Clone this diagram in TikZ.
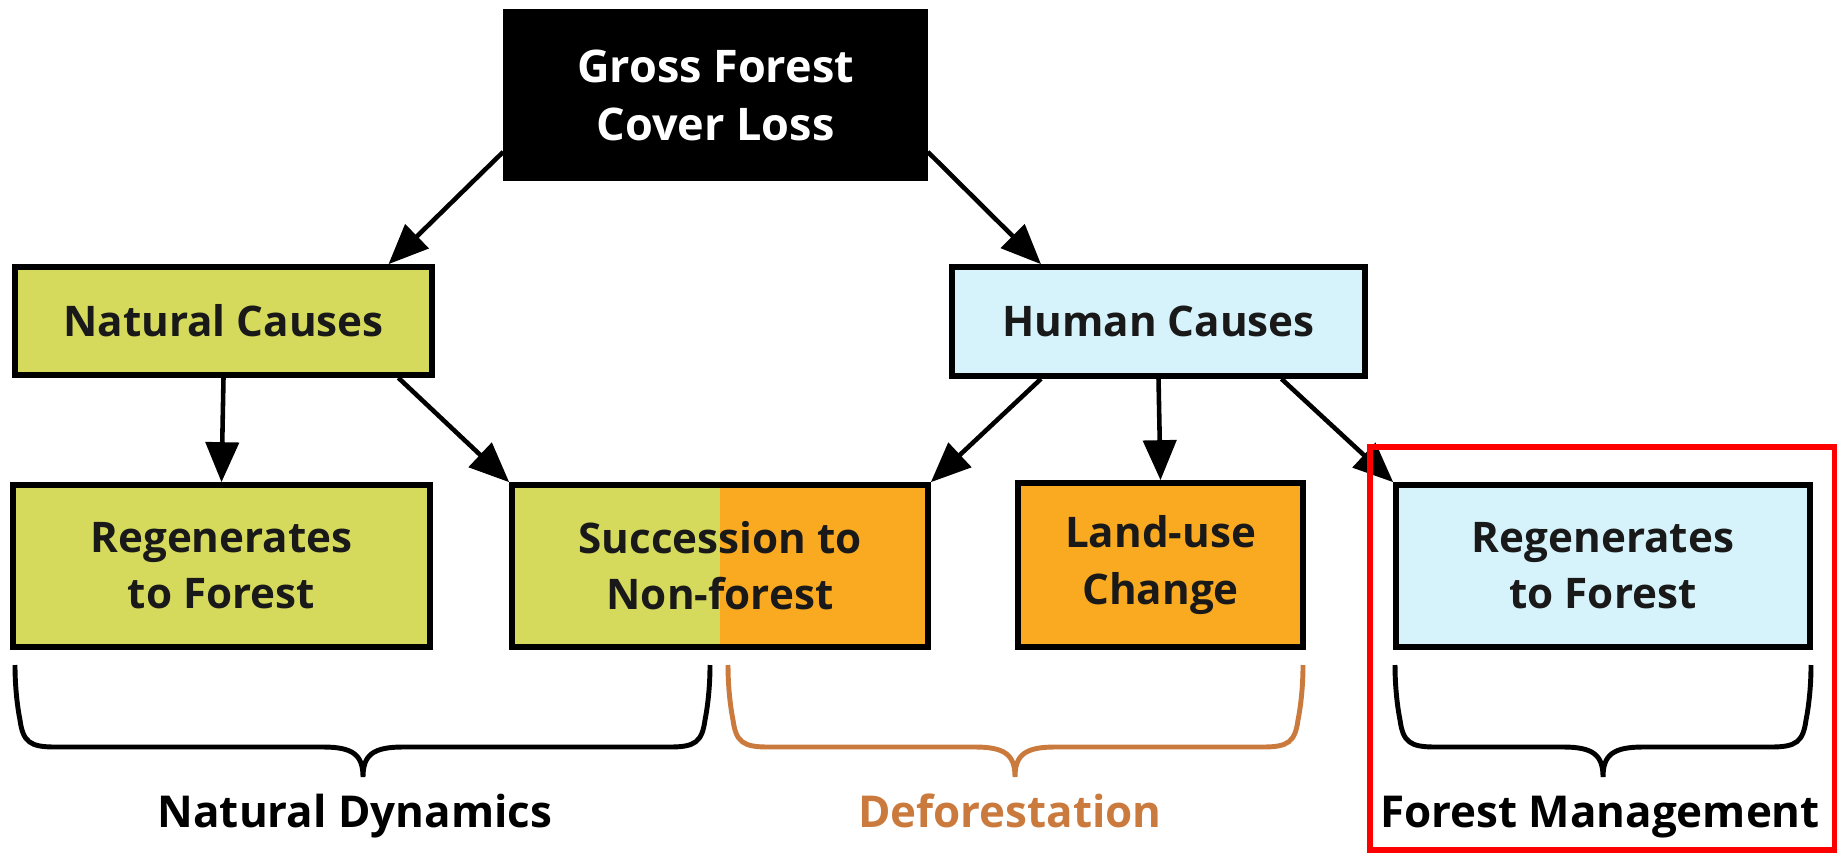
\documentclass[tikz,border=0pt]{standalone}
\usepackage{fontspec}
\setmainfont{Open Sans}
\usetikzlibrary{calc,arrows.meta}
\definecolor{natgreen}{RGB}{213,217,92}
\definecolor{deforange}{RGB}{250,170,32}
\definecolor{humblue}{RGB}{214,242,250}
\definecolor{braceorange}{RGB}{203,122,62}
\def\bigbrace[#1](#2:#3:#4){\draw[#1] (#2,-6.65) .. controls (#2,-6.9) and (#2+0.03,-7.1) .. (#2+0.05,-7.2) .. controls (#2+0.08,-7.42) and (#2+0.15,-7.47) .. (#2+0.4,-7.47) -- (#4-0.4,-7.47) .. controls (#4-0.1,-7.47) and (#4,-7.55) .. (#4,-7.77) .. controls (#4,-7.55) and (#4+0.1,-7.47) .. (#4+0.4,-7.47) -- (#3-0.4,-7.47) .. controls (#3-0.15,-7.47) and (#3-0.08,-7.42) .. (#3-0.05,-7.2) .. controls (#3-0.03,-7.1) and (#3,-6.9) .. (#3,-6.65);}
\tikzset{
  box/.style={draw, line width=1.6pt, inner sep=0pt, align=center, text=black!90, font=\fontsize{12}{16}\selectfont\bfseries},
  lowbox/.style={box, minimum height=1.62cm},
  arr/.style={line width=1.3pt, -{Triangle[length=4mm,width=3.3mm]}},
  lbl/.style={anchor=base, font=\fontsize{12.5}{16}\selectfont\bfseries}
}
\begin{document}
\begin{tikzpicture}
			%%%%% START %%%%%
			\useasboundingbox (0,0) rectangle (18.37,-8.52);
			
			\node[box, fill=black, text=white, minimum width=4.19cm, minimum height=1.66cm, font=\fontsize{12.8}{16.5}\selectfont\bfseries] (gross) at (7.155,-0.95) {Gross Forest\\Cover Loss};
			
			\node[box, fill=natgreen, minimum width=4.17cm, minimum height=1.08cm] (natural) at (2.235,-3.21) {Natural Causes};
			\node[box, fill=humblue, minimum width=4.13cm, minimum height=1.09cm] (human) at (11.585,-3.215) {Human Causes};
			
			\node[lowbox, fill=natgreen, minimum width=4.17cm] (regnat) at (2.215,-5.66) {Regenerates\\to Forest};
			\node[lowbox, fill=natgreen, minimum width=4.16cm, path picture={\fill[deforange] (path picture bounding box.north) rectangle (path picture bounding box.south east);}] (succ) at (7.2,-5.66) {Succession to\\Non-forest};
			\node[lowbox, fill=deforange, minimum width=2.85cm, minimum height=1.64cm] (landuse) at (11.605,-5.65) {Land-use\\Change};
			\node[lowbox, fill=humblue, minimum width=4.14cm] (reghum) at (16.03,-5.66) {Regenerates\\to Forest};
			
			\draw[arr] (gross.195) -- (natural.19);
			\draw[arr] (gross.345) -- (human.154);
			\draw[arr] (natural.south) -- (regnat.north);
			\draw[arr] (natural.342) -- (succ.north west);
			\draw[arr] (human.206) -- (succ.north east);
			\draw[arr] (human.south) -- (landuse.north);
			\draw[arr] (human.335) -- (reghum.north west);
			
			\bigbrace[line width=1.4pt](0.15:7.1:3.63)
			\bigbrace[line width=1.4pt, braceorange](7.28:13.03:10.15)
			\bigbrace[line width=1.4pt](13.95:18.11:16.03)
			
			\node[lbl] (natdyn) at (3.55,-8.27) {Natural Dynamics};
			\node[lbl, text=braceorange] (defor) at (10.1,-8.27) {Deforestation};
			\node[lbl] (forman) at (16.0,-8.27) {Forest Management};
			
			\draw[red, line width=1.5pt] (13.70,-4.47) rectangle (18.35,-8.50);
			%%%%% END %%%%%
\end{tikzpicture}
\end{document}
